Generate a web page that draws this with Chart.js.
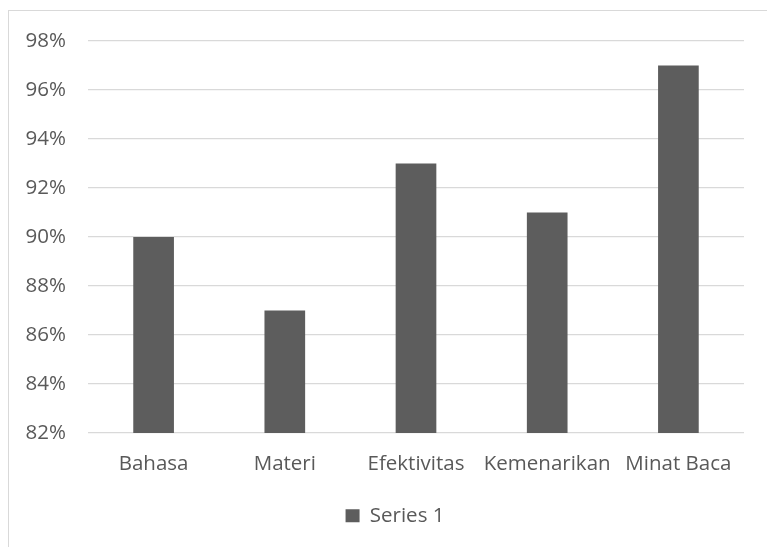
<!DOCTYPE html>
<html>
<head>
<meta charset="utf-8">
<script src="https://cdn.jsdelivr.net/npm/chart.js@4"></script>
<style>
html,body{margin:0;padding:0;background:#fff;overflow:hidden;}
#wrap{position:absolute;left:0;top:0;width:767px;height:547px;}
#frame{position:absolute;left:8px;top:10px;width:800px;height:600px;border-top:1px solid #d9d9d9;border-left:1px solid #d9d9d9;}
canvas{position:absolute;left:0;top:0;}
</style>
</head>
<body>
<div id="wrap">
<div id="frame"></div>
<canvas id="c" width="767" height="547"></canvas>
</div>
<script>
const categories = ["Bahasa", "Materi", "Efektivitas", "Kemenarikan", "Minat Baca"];
const seriesName = "Series 1";
const seriesValues = [90, 87, 93, 91, 97];
const yMin = 82, yMax = 98, yStep = 2;

const FONT = "'Open Sans', sans-serif";
const TEXT = "#595959";

const legendShift = {
  id: 'legendShift',
  afterLayout(chart) {
    if (chart.legend) { chart.legend.left += 23; chart.legend.right += 23; }
  }
};

new Chart(document.getElementById('c'), {
  type: 'bar',
  data: {
    labels: categories,
    datasets: [{
      label: seriesName,
      data: seriesValues,
      backgroundColor: '#5d5d5d',
      borderWidth: 0,
      categoryPercentage: 1,
      barPercentage: 0.31
    }]
  },
  plugins: [legendShift],
  options: {
    responsive: false,
    animation: false,
    devicePixelRatio: 1,
    layout: { padding: { left: 0, right: 23, top: 41, bottom: 11 } },
    plugins: {
      legend: {
        position: 'bottom',
        labels: {
          font: { family: FONT, size: 20.5 },
          color: TEXT,
          boxWidth: 14,
          boxHeight: 13,
          padding: 10
        }
      },
      tooltip: { enabled: false }
    },
    scales: {
      x: {
        grid: { display: false, drawTicks: false },
        border: { display: false },
        ticks: { font: { family: FONT, size: 20.5 }, color: TEXT, padding: 19, maxRotation: 0, autoSkip: false }
      },
      y: {
        min: yMin, max: yMax,
        afterFit: (s) => { s.width = 88; },
        grid: { color: '#d9d9d9', lineWidth: 1.3, drawTicks: false },
        border: { display: false },
        ticks: {
          stepSize: yStep,
          padding: 22,
          font: { family: FONT, size: 20.5 },
          color: TEXT,
          callback: (v) => v + '%'
        }
      }
    }
  }
});
</script>
</body>
</html>
